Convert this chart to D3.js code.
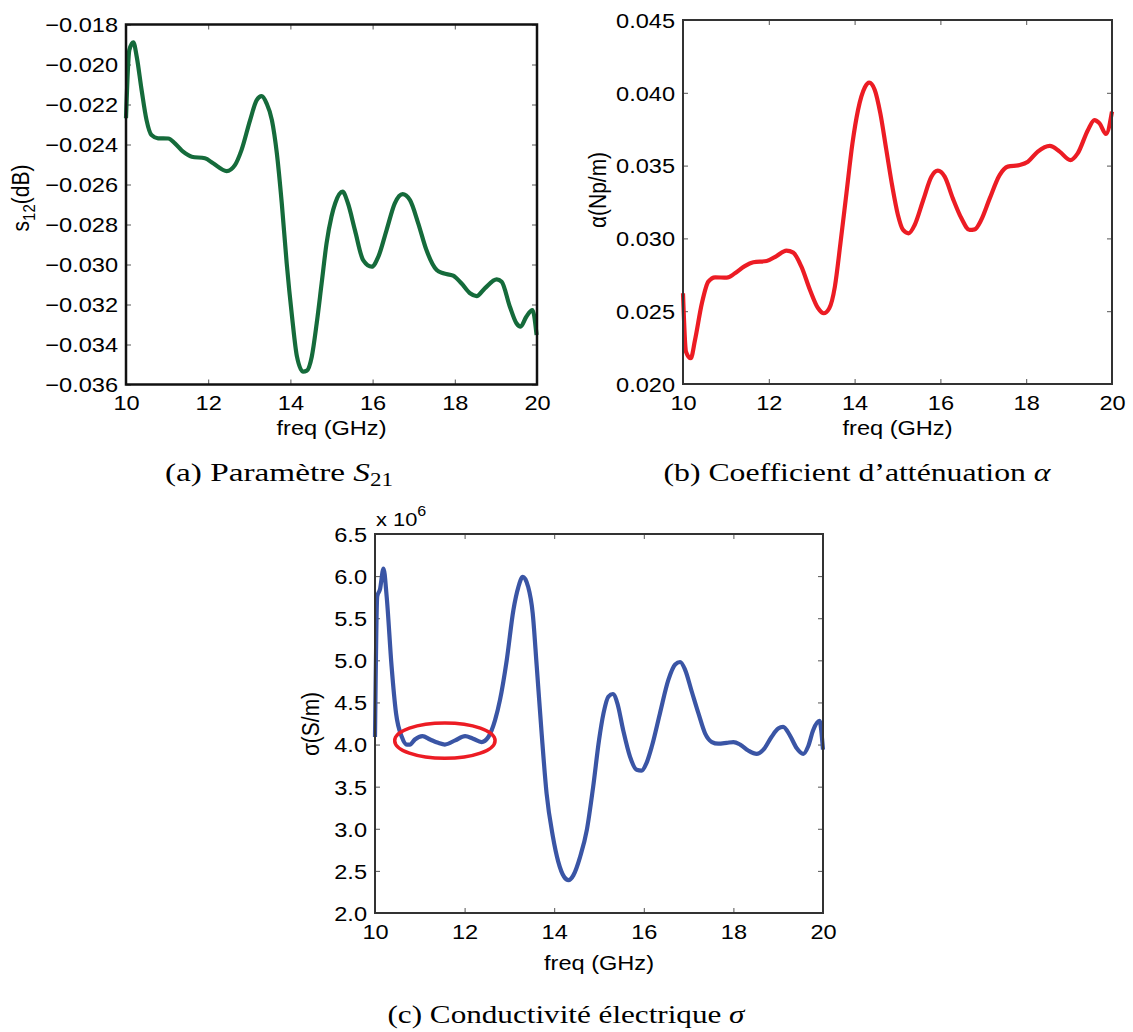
<!DOCTYPE html>
<html>
<head>
<meta charset="utf-8">
<script src="https://cdn.jsdelivr.net/npm/d3@7"></script>
<style>
  body { margin: 0; background: #fff; }
  svg { display: block; }
</style>
</head>
<body>
<script>
// ---- data ----
const freqTicks = [10, 12, 14, 16, 18, 20];

// (a) S21
const s21Freq = [10.0, 10.08, 10.18, 10.26, 10.38, 10.5, 10.62, 10.78, 11.03, 11.19, 11.39, 11.6, 11.92, 12.12, 12.45, 12.65, 12.81, 13.02, 13.18, 13.3, 13.42, 13.55, 13.67, 13.79, 13.91, 14.04, 14.16, 14.31, 14.4, 14.52, 14.64, 14.76, 14.88, 15.0, 15.09, 15.27, 15.4, 15.57, 15.77, 15.98, 16.14, 16.34, 16.54, 16.73, 16.91, 17.11, 17.31, 17.56, 17.72, 17.96, 18.16, 18.37, 18.53, 18.73, 19.02, 19.14, 19.34, 19.5, 19.6, 19.74, 19.89, 19.99];
const s21Vals = [-0.02269, -0.01928, -0.01889, -0.0196, -0.02128, -0.02278, -0.02353, -0.02369, -0.0237, -0.02394, -0.02436, -0.02461, -0.02469, -0.02494, -0.02533, -0.02503, -0.02428, -0.02278, -0.02178, -0.02158, -0.02194, -0.02278, -0.02444, -0.02694, -0.02994, -0.03261, -0.03461, -0.03536, -0.03531, -0.03461, -0.03294, -0.03094, -0.02894, -0.0276, -0.02694, -0.02636, -0.02694, -0.02828, -0.02978, -0.03011, -0.02961, -0.02828, -0.02694, -0.02648, -0.02678, -0.02794, -0.02928, -0.03028, -0.03044, -0.03056, -0.03094, -0.03144, -0.03158, -0.03119, -0.03074, -0.03086, -0.03211, -0.03294, -0.03311, -0.03261, -0.03228, -0.03353];
const s21Ticks = [-0.036, -0.034, -0.032, -0.030, -0.028, -0.026, -0.024, -0.022, -0.020, -0.018];

// (b) attenuation alpha
const alphaFreq = [10.0, 10.07, 10.18, 10.28, 10.44, 10.59, 10.75, 11.02, 11.21, 11.44, 11.64, 11.95, 12.18, 12.41, 12.57, 12.76, 12.96, 13.15, 13.28, 13.41, 13.54, 13.67, 13.81, 13.95, 14.08, 14.24, 14.34, 14.47, 14.6, 14.74, 14.88, 15.01, 15.13, 15.26, 15.4, 15.6, 15.79, 15.94, 16.1, 16.29, 16.49, 16.68, 16.8, 16.95, 17.15, 17.38, 17.57, 17.85, 18.04, 18.27, 18.55, 18.78, 19.03, 19.2, 19.44, 19.59, 19.71, 19.86, 20.0];
const alphaVals = [0.02623, 0.02222, 0.02177, 0.02302, 0.02554, 0.02703, 0.02733, 0.0273, 0.0276, 0.0281, 0.02836, 0.02845, 0.02879, 0.02916, 0.02902, 0.02806, 0.02646, 0.0252, 0.02486, 0.0252, 0.02668, 0.02966, 0.0331, 0.03653, 0.03882, 0.04038, 0.0407, 0.0402, 0.03859, 0.03607, 0.03355, 0.03161, 0.03058, 0.03035, 0.03092, 0.03264, 0.03424, 0.03465, 0.03424, 0.03275, 0.03138, 0.03058, 0.03062, 0.03126, 0.03275, 0.03435, 0.03493, 0.03504, 0.03527, 0.03596, 0.03635, 0.03596, 0.03538, 0.03584, 0.03745, 0.03813, 0.0379, 0.03717, 0.0387];
const alphaTicks = [0.020, 0.025, 0.030, 0.035, 0.040, 0.045];

// (c) conductivity sigma, in units of 1e6 S/m
const sigmaFreq = [10.0, 10.05, 10.11, 10.19, 10.26, 10.37, 10.47, 10.6, 10.71, 10.78, 10.89, 11.06, 11.23, 11.41, 11.56, 11.79, 12.01, 12.19, 12.38, 12.53, 12.68, 12.79, 12.94, 13.09, 13.2, 13.3, 13.42, 13.52, 13.61, 13.72, 13.83, 13.97, 14.09, 14.22, 14.32, 14.43, 14.58, 14.73, 14.87, 15.0, 15.1, 15.21, 15.31, 15.41, 15.54, 15.69, 15.84, 15.95, 16.06, 16.18, 16.36, 16.55, 16.7, 16.81, 16.92, 17.07, 17.22, 17.37, 17.52, 17.66, 17.85, 18.0, 18.15, 18.33, 18.52, 18.67, 18.85, 19.0, 19.11, 19.26, 19.41, 19.56, 19.67, 19.78, 19.92, 20.0];
const sigmaVals = [4.09, 5.76, 5.84, 6.09, 5.76, 4.93, 4.37, 4.09, 4.0, 4.0, 4.06, 4.1, 4.06, 4.02, 4.0, 4.05, 4.1, 4.07, 4.03, 4.09, 4.29, 4.53, 5.0, 5.6, 5.87, 5.99, 5.87, 5.56, 4.93, 4.13, 3.42, 2.91, 2.61, 2.43, 2.39, 2.45, 2.67, 2.99, 3.5, 4.05, 4.37, 4.57, 4.6, 4.49, 4.17, 3.86, 3.7, 3.69, 3.78, 3.98, 4.37, 4.77, 4.95, 4.98, 4.89, 4.63, 4.37, 4.13, 4.03, 4.01, 4.02, 4.03, 4.0, 3.93, 3.89, 3.94, 4.09, 4.19, 4.21, 4.11, 3.96, 3.89, 3.98, 4.17, 4.28, 3.94];
const sigmaTicks = [2.0, 2.5, 3.0, 3.5, 4.0, 4.5, 5.0, 5.5, 6.0, 6.5];
// highlighted region (centre freq, centre value, half-width GHz, half-height)
const ripple = [11.56, 4.046, 1.12, 0.21];

// ---- layout ----
const W = 1133, H = 1032;
const SX = 1.15; // figure text is stretched horizontally
const FS = 20.5;
const sansFont = "'Liberation Sans', Arial, Helvetica, sans-serif";
const serifFont = "'Liberation Serif', 'DejaVu Serif', serif";

const svg = d3.select("body").append("svg")
  .attr("width", W).attr("height", H)
  .style("background", "#fff");

const panels = [
  { freq: s21Freq, vals: s21Vals, ticks: s21Ticks, domain: [-0.036, -0.018], fmt: d3.format(".3f"),
    box: [126, 537, 24.5, 384.5], color: "#156b3b", frame: "#111", frameW: 2.5,
    ylab: ["s", "12", "(dB)"], ylabX: 29, ylabY: 198, xlabY: 435,
    caption: "(a) Paramètre ", capMath: ["S", "21"], capX: 279, capY: 481, capW: 228 },
  { freq: alphaFreq, vals: alphaVals, ticks: alphaTicks, domain: [0.020, 0.045], fmt: d3.format(".3f"),
    box: [683, 1112, 20, 384], color: "#ec1c24", frame: "#333", frameW: 2,
    ylab: ["α(Np/m)"], ylabX: 606, ylabY: 190, xlabY: 435,
    caption: "(b) Coefficient d’atténuation ", capMath: ["α", ""], capX: 857, capY: 481, capW: 387 },
  { freq: sigmaFreq, vals: sigmaVals, ticks: sigmaTicks, domain: [2.0, 6.5], fmt: d3.format(".1f"),
    box: [375, 823, 534, 913], color: "#3a55a5", frame: "#333", frameW: 2,
    ylab: ["σ(S/m)"], ylabX: 319, ylabY: 724, xlabY: 970,
    caption: "(c) Conductivité électrique ", capMath: ["σ", ""], capX: 566, capY: 1023, capW: 357 }
];

function stretch(sel) {
  sel.attr("transform", `scale(${SX},1)`);
}

panels.forEach((p, idx) => {
  const [x0, x1, y0, y1] = p.box;
  const x = d3.scaleLinear().domain([10, 20]).range([x0, x1]);
  const y = d3.scaleLinear().domain(p.domain).range([y1, y0]);

  const g = svg.append("g");

  // inward ticks on all four sides
  const tickStyle = (ax) => {
    ax.select(".domain").remove();
    ax.selectAll(".tick line").attr("stroke", "#555").attr("stroke-width", 1);
    ax.selectAll("text").attr("font-family", sansFont).attr("font-size", FS).attr("fill", "#000");
  };

  const gx = g.append("g").attr("transform", `translate(0,${y1})`)
    .call(d3.axisBottom(x).tickValues(freqTicks).tickSize(-5).tickPadding(0).tickFormat(d3.format("d")));
  tickStyle(gx);
  gx.selectAll("text").attr("y", 26).attr("dy", null).call(stretch);

  g.append("g").attr("transform", `translate(0,${y0})`)
    .call(d3.axisTop(x).tickValues(freqTicks).tickSize(-5).tickFormat(""))
    .call(tickStyle);

  const gy = g.append("g").attr("transform", `translate(${x0},0)`)
    .call(d3.axisLeft(y).tickValues(p.ticks).tickSize(-5).tickFormat(p.fmt));
  tickStyle(gy);
  gy.selectAll("text").attr("x", -8 / SX).attr("dy", "0.36em").call(stretch);

  g.append("g").attr("transform", `translate(${x1},0)`)
    .call(d3.axisRight(y).tickValues(p.ticks).tickSize(-5).tickFormat(""))
    .call(tickStyle);

  // data line
  const line = d3.line()
    .x((d, i) => x(p.freq[i]))
    .y(d => y(d))
    .curve(d3.curveMonotoneX);

  g.append("path")
    .datum(p.vals)
    .attr("d", line)
    .attr("fill", "none")
    .attr("stroke", p.color)
    .attr("stroke-width", 4.2)
    .attr("stroke-linejoin", "round");

  // frame
  g.append("rect")
    .attr("x", x0).attr("y", y0)
    .attr("width", x1 - x0).attr("height", y1 - y0)
    .attr("fill", "none")
    .attr("stroke", p.frame)
    .attr("stroke-width", p.frameW);

  // x label
  g.append("text")
    .attr("transform", `translate(${(x0 + x1) / 2},${p.xlabY}) scale(${SX},1)`)
    .attr("text-anchor", "middle")
    .attr("font-family", sansFont).attr("font-size", FS)
    .text("freq (GHz)");

  // y label
  const yl = g.append("text")
    .attr("transform", `translate(${p.ylabX},${p.ylabY}) rotate(-90) scale(1,${SX})`)
    .attr("text-anchor", "middle")
    .attr("font-family", sansFont).attr("font-size", 21);
  if (p.ylab.length === 3) {
    yl.append("tspan").text(p.ylab[0]);
    yl.append("tspan").attr("font-size", 15).attr("dy", 5).text(p.ylab[1]);
    yl.append("tspan").attr("dy", -5).text(p.ylab[2]);
  } else {
    yl.text(p.ylab[0]);
  }

  // caption
  const cap = svg.append("text")
    .attr("x", p.capX).attr("y", p.capY)
    .attr("text-anchor", "middle")
    .attr("textLength", p.capW)
    .attr("lengthAdjust", "spacingAndGlyphs")
    .attr("font-family", serifFont).attr("font-size", 26);
  cap.append("tspan").text(p.caption);
  cap.append("tspan").attr("font-style", "italic").text(p.capMath[0]);
  if (p.capMath[1]) cap.append("tspan").attr("font-size", 18).attr("dy", 5).text(p.capMath[1]);

  if (idx === 2) {
    // multiplier label
    const m = g.append("text")
      .attr("transform", `translate(${x0 + 1},${y0 - 8}) scale(${SX},1)`)
      .attr("font-family", sansFont).attr("font-size", 19);
    m.append("tspan").text("x 10");
    m.append("tspan").attr("font-size", 14).attr("dy", -10).text("6");

    // red ellipse around the ripple
    g.append("ellipse")
      .attr("cx", x(ripple[0])).attr("cy", y(ripple[1]))
      .attr("rx", x(ripple[0] + ripple[2]) - x(ripple[0]))
      .attr("ry", y(ripple[1]) - y(ripple[1] + ripple[3]))
      .attr("fill", "none")
      .attr("stroke", "#ec1c24")
      .attr("stroke-width", 3.5);
  }
});
</script>
</body>
</html>
